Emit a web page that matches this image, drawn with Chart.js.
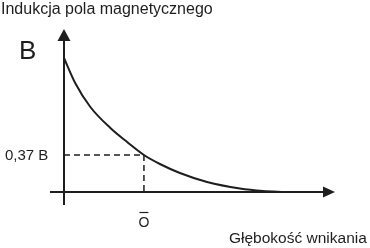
<!DOCTYPE html>
<html>
<head>
<meta charset="utf-8">
<script src="https://cdn.jsdelivr.net/npm/chart.js@4"></script>
<style>
  html, body { margin: 0; padding: 0; background: #fff; }
  #wrap { width: 370px; height: 248px; }
</style>
</head>
<body>
<div id="wrap"><canvas id="myChart" width="370" height="248"></canvas></div>
<script>
// depth in units of the penetration depth, induction in units of B
const depth = [0, 0.14, 0.33, 0.58, 0.79, 1.0, 1.2, 1.45, 1.79, 2.2, 2.49, 2.76];
const induction = [1.34, 1.09, 0.85, 0.64, 0.50, 0.37, 0.28, 0.19, 0.10, 0.035, 0.01, 0];
const markerDepth = 1.0;
const markerValue = 0.37;
const markerLabelY = "0,37 B";
const markerLabelX = "O";
const yAxisLabel = "B";
const title = "Indukcja pola magnetycznego";
const xTitle = "Głębokość wnikania";

const ink = "#1e1e1e";
const font = "'Liberation Sans', Arial, sans-serif";

const points = depth.map(function (d, i) {
  return { x: d, y: induction[i] };
});

function arrow(ctx, tipX, tipY, dir) {
  ctx.beginPath();
  if (dir === "up") {
    ctx.moveTo(tipX, tipY);
    ctx.lineTo(tipX - 6.5, tipY + 12);
    ctx.lineTo(tipX + 6.5, tipY + 12);
  } else {
    ctx.moveTo(tipX, tipY);
    ctx.lineTo(tipX - 12, tipY - 5.5);
    ctx.lineTo(tipX - 12, tipY + 5.5);
  }
  ctx.closePath();
  ctx.fill();
}

const sketchAxes = {
  id: "sketchAxes",
  beforeDatasetsDraw(chart) {
    const ctx = chart.ctx;
    const xs = chart.scales.x;
    const ys = chart.scales.y;
    const area = chart.chartArea;
    const x0 = xs.getPixelForValue(0);
    const y0 = ys.getPixelForValue(0);
    ctx.save();
    ctx.strokeStyle = ink;
    ctx.fillStyle = ink;
    ctx.lineWidth = 2;
    // y axis
    ctx.beginPath();
    ctx.moveTo(x0, area.bottom);
    ctx.lineTo(x0, area.top + 6);
    ctx.stroke();
    arrow(ctx, x0, area.top, "up");
    // x axis
    ctx.beginPath();
    ctx.moveTo(area.left, y0);
    ctx.lineTo(area.right - 6, y0);
    ctx.stroke();
    arrow(ctx, area.right, y0, "right");
    // dashed guides
    const mx = xs.getPixelForValue(markerDepth);
    const my = ys.getPixelForValue(markerValue);
    ctx.lineWidth = 1.5;
    ctx.setLineDash([6, 4]);
    ctx.beginPath();
    ctx.moveTo(x0, my);
    ctx.lineTo(mx, my);
    ctx.moveTo(mx, my);
    ctx.lineTo(mx, y0);
    ctx.stroke();
    ctx.setLineDash([]);
    ctx.restore();
  },
  afterDraw(chart) {
    const ctx = chart.ctx;
    const xs = chart.scales.x;
    const ys = chart.scales.y;
    const mx = xs.getPixelForValue(markerDepth);
    const my = ys.getPixelForValue(markerValue);
    ctx.save();
    ctx.fillStyle = ink;
    ctx.strokeStyle = ink;
    ctx.textBaseline = "alphabetic";
    ctx.textAlign = "left";
    ctx.font = "16px " + font;
    ctx.fillText(title, 1, 14);
    ctx.font = "26px " + font;
    ctx.fillText(yAxisLabel, 19, 59);
    ctx.font = "15px " + font;
    ctx.fillText(markerLabelY, 5, my + 5);
    ctx.font = "15.5px " + font;
    ctx.fillText(xTitle, 229, 243);
    ctx.textAlign = "center";
    ctx.font = "14px " + font;
    ctx.fillText(markerLabelX, mx, 227);
    const w = ctx.measureText(markerLabelX).width;
    ctx.lineWidth = 1.2;
    ctx.beginPath();
    ctx.moveTo(mx - w / 2 + 1, 212.5);
    ctx.lineTo(mx + w / 2 - 1, 212.5);
    ctx.stroke();
    ctx.restore();
  }
};

const config = {
  type: "line",
  data: {
    datasets: [
      {
        data: points,
        borderColor: ink,
        borderWidth: 2,
        pointRadius: 0,
        fill: false,
        cubicInterpolationMode: "monotone"
      }
    ]
  },
  options: {
    responsive: false,
    animation: false,
    layout: { padding: { left: 50, right: 35, top: 29, bottom: 43 } },
    plugins: { legend: { display: false }, tooltip: { enabled: false } },
    scales: {
      x: { type: "linear", min: -0.175, max: 3.39, display: false },
      y: { type: "linear", min: -0.13, max: 1.63, display: false }
    }
  },
  plugins: [sketchAxes]
};

new Chart(document.getElementById("myChart"), config);
</script>
</body>
</html>
